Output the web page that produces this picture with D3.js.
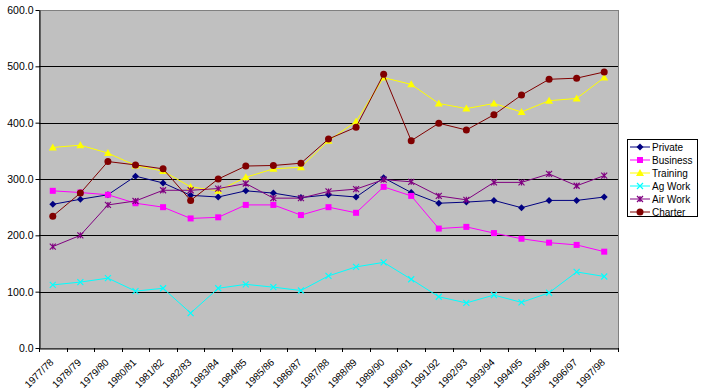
<!DOCTYPE html>
<html><head><meta charset="utf-8">
<script src="https://cdn.jsdelivr.net/npm/d3@7"></script>
<style>
body{margin:0;background:#fff;}
svg text{font-family:"Liberation Sans",Arial,sans-serif;}
</style></head>
<body>
<svg id="c" width="701" height="392"></svg>
<script>
const categories = ["1977/78","1978/79","1979/80","1980/81","1981/82","1982/83","1983/84","1984/85","1985/86","1986/87","1987/88","1988/89","1989/90","1990/91","1991/92","1992/93","1993/94","1994/95","1995/96","1996/97","1997/98"];
const seriesNames = ["Private","Business","Training","Ag Work","Air Work","Charter"];
const privateVals = [255,264,272,305,293,271,268,279,275,267,272,268,302,276,257,259,262,249,262,262,268];
const businessVals = [279,276,272,257,250,230,232,254,254,236,250,240,286,270,212,215,204,194,187,183,171];
const trainingVals = [356,360,346,324,314,286,279,303,318,321,368,402,480,468,434,425,434,419,439,443,480];
const agWorkVals = [112,117,124,101,106,62,106,113,108,102,128,144,152,122,91,80,94,81,98,135,127];
const airWorkVals = [180,200,254,261,280,280,283,292,266,266,278,282,299,295,270,263,294,294,309,288,306];
const charterVals = [234,275,331,325,318,262,300,323,324,328,371,392,486,368,399,387,414,449,477,479,490];
const yTicks = [0,100,200,300,400,500,600];
const colors = ["#000080","#FF00FF","#FFFF00","#00FFFF","#800080","#800000"];
const markers = ["diamond","square","triangle","x","star","circle"];
const seriesVals = [privateVals,businessVals,trainingVals,agWorkVals,airWorkVals,charterVals];

const svg = d3.select("#c");
const L = 39, R = 618, T = 10, B = 348;
const x = d3.scaleBand().domain(categories).range([L, R]).padding(0);
const y = d3.scaleLinear().domain([0, 600]).range([B, T]);
const cx = c => x(c) + x.bandwidth()/2;

// plot area
svg.append("rect").attr("x", L).attr("y", T).attr("width", R-L).attr("height", B-T)
  .attr("fill", "#C0C0C0").attr("stroke", "#808080").attr("stroke-width", 1)
  .attr("shape-rendering", "crispEdges");

// gridlines
svg.append("g").selectAll("line").data(yTicks.filter(v => v > 0 && v < 600)).join("line")
  .attr("x1", L).attr("x2", R).attr("y1", d => Math.round(y(d))+0.5).attr("y2", d => Math.round(y(d))+0.5)
  .attr("stroke", "#000").attr("stroke-width", 1);

// y axis
const yAxis = svg.append("g").attr("transform", `translate(${L+0.5},0)`)
  .call(d3.axisLeft(y).tickValues(yTicks).tickFormat(d3.format(".1f")).tickSize(4).tickSizeOuter(0));
yAxis.select(".domain").attr("stroke", "#000");
yAxis.selectAll(".tick text").attr("font-size", 10.5).attr("fill", "#000").attr("x", -6)
  .attr("font-family", "'Liberation Sans',Arial,sans-serif");

// x axis
const xAxis = svg.append("g").attr("transform", `translate(0,${B+0.5})`)
  .call(d3.axisBottom(x).tickSize(0).tickSizeOuter(0));
xAxis.select(".domain").attr("stroke", "#000");
xAxis.selectAll(".tick text")
  .attr("font-size", 10).attr("fill", "#000")
  .attr("font-family", "'Liberation Sans',Arial,sans-serif")
  .attr("text-anchor", "end")
  .attr("transform", "translate(-1,12) rotate(-45)")
  .attr("dy", "0.35em").attr("y", 0).attr("x", 0);
// category boundary ticks
const bounds = categories.map(c => x(c)).concat([R]);
svg.append("g").selectAll("line").data(bounds).join("line")
  .attr("x1", d => Math.round(d)+0.5).attr("x2", d => Math.round(d)+0.5)
  .attr("y1", B).attr("y2", B+4).attr("stroke", "#000");

function drawMarker(g, type, color, px, py) {
  const s = 3;
  if (type === "diamond") {
    g.append("path").attr("d", `M${px},${py-s-0.5}L${px+s+0.5},${py}L${px},${py+s+0.5}L${px-s-0.5},${py}Z`).attr("fill", color);
  } else if (type === "square") {
    g.append("rect").attr("x", px-3).attr("y", py-3).attr("width", 6).attr("height", 6).attr("fill", color);
  } else if (type === "triangle") {
    g.append("path").attr("d", `M${px},${py-4}L${px+4},${py+3}L${px-4},${py+3}Z`).attr("fill", color);
  } else if (type === "x") {
    g.append("path").attr("d", `M${px-3},${py-3}L${px+3},${py+3}M${px+3},${py-3}L${px-3},${py+3}`).attr("stroke", color).attr("stroke-width", 1.2);
  } else if (type === "star") {
    g.append("path").attr("d", `M${px-3},${py-3}L${px+3},${py+3}M${px+3},${py-3}L${px-3},${py+3}M${px},${py-3}L${px},${py+3}`).attr("stroke", color).attr("stroke-width", 1.2);
  } else {
    g.append("circle").attr("cx", px).attr("cy", py).attr("r", 3.5).attr("fill", color);
  }
}

const line = d3.line().x((d, i) => cx(categories[i])).y(d => y(d));
seriesVals.forEach((vals, si) => {
  const g = svg.append("g");
  g.append("path").datum(vals).attr("d", line).attr("fill", "none")
    .attr("stroke", colors[si]).attr("stroke-width", 1);
  vals.forEach((v, i) => drawMarker(g, markers[si], colors[si], cx(categories[i]), y(v)));
});

// legend
const lg = svg.append("g");
lg.append("rect").attr("x", 627.5).attr("y", 139.5).attr("width", 70).attr("height", 77)
  .attr("fill", "#fff").attr("stroke", "#000");
seriesNames.forEach((n, i) => {
  const yy = 147 + i*13;
  lg.append("line").attr("x1", 630).attr("x2", 650).attr("y1", yy).attr("y2", yy)
    .attr("stroke", colors[i]).attr("stroke-width", 1);
  drawMarker(lg, markers[i], colors[i], 640, yy);
  lg.append("text").attr("x", 652).attr("y", yy).attr("dy", "0.35em")
    .attr("font-size", 10).attr("fill", "#000").text(n);
});
</script>
</body></html>
